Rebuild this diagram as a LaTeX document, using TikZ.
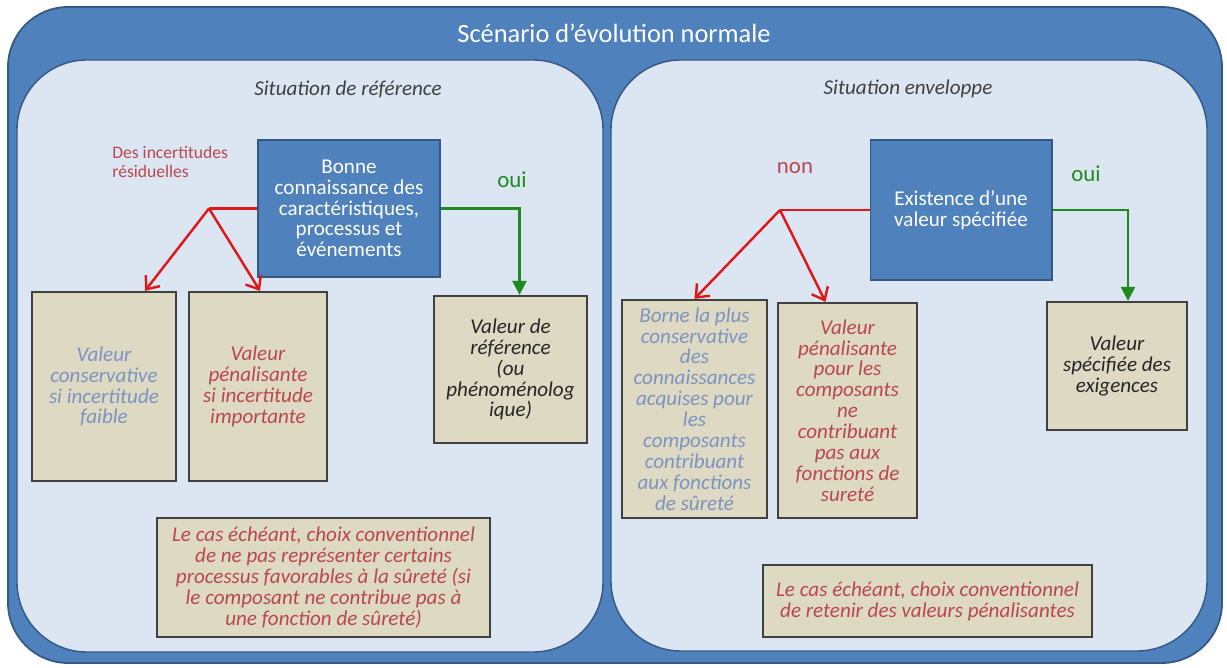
\documentclass[tikz,border=0pt]{standalone}
\usepackage{fontspec}
\setmainfont{Carlito}
\usepackage{xcolor}
\usetikzlibrary{positioning, arrows.meta, calc}

\definecolor{ciel}{RGB}{79,129,189}
\definecolor{cielfonce}{RGB}{52,88,132}
\definecolor{pale}{RGB}{220,230,242}
\definecolor{sable}{RGB}{221,217,195}
\definecolor{rouille}{RGB}{185,72,78}
\definecolor{ardoise}{RGB}{125,148,192}
\definecolor{rougevif}{RGB}{222,24,24}
\definecolor{vert}{RGB}{28,138,28}

\tikzset{
  cadre/.style={fill=pale, draw=cielfonce, line width=0.8pt, rounded corners=1.4cm},
  titre/.style={text=white, font=\fontsize{15}{17}\selectfont},
  soustitre/.style={text=black!75, font=\fontsize{12}{14}\selectfont\itshape},
  bleubox/.style={fill=ciel, draw=cielfonce, line width=0.6pt, text=white, align=center,
    inner sep=2pt, font=\fontsize{12}{11.8}\selectfont},
  sablebox/.style={fill=sable, draw=black!75, line width=1.3pt, align=center,
    inner sep=2pt, font=\fontsize{12}{11.9}\selectfont\itshape},
  note/.style={align=left, inner sep=0pt, font=\fontsize{10}{11}\selectfont},
  reponse/.style={inner sep=0pt, font=\fontsize{13}{15}\selectfont},
  trait rouge/.style={draw=rougevif, line width=1.4pt},
  fleche rouge/.style={trait rouge, -{Straight Barb[length=2.2mm, width=3.6mm]}},
  fleche verte/.style={draw=vert, line width=1.4pt, -{Triangle[length=2.8mm, width=2.8mm]}}
}

\begin{document}
\begin{tikzpicture}[x=0.02cm, y=-0.02cm]
  % Fix the page to the size of the figure
  \useasboundingbox (0,0) rectangle (1227,668);

  % Draw outer blue frame and its title
  \draw[fill=ciel, draw=cielfonce, line width=1pt, rounded corners=1.2cm] (8,7) rectangle (1222,663);
  \node[titre] (scenario) at (614,33) {Scénario d’évolution normale};

  % Draw the two light panels
  \draw[cadre] (17,60) rectangle (603,652);
  \draw[cadre] (611,60) rectangle (1207,651);
  \node[soustitre] (sitref) at (348,89) {Situation de référence};
  \node[soustitre] (sitenv) at (908,89) {Situation enveloppe};

  % Left panel: question box and the three values
  \node[bleubox, minimum width=3.64cm, minimum height=2.74cm] (connaissance) at (349,208.5)
    {Bonne\\connaissance des\\caractéristiques,\\processus et\\événements};
  \node[sablebox, text=ardoise, minimum width=2.88cm, minimum height=3.78cm] (conservative) at (104,386.5)
    {Valeur\\conservative\\si incertitude\\faible};
  \node[sablebox, text=rouille, minimum width=2.76cm, minimum height=3.78cm] (penalisante) at (258,386.5)
    {Valeur\\pénalisante\\si incertitude\\importante};
  \node[sablebox, text=black!85, minimum width=3.06cm, minimum height=2.94cm] (reference) at (510.5,369.5)
    {Valeur de\\référence\\(ou\\phénoménolog\\ique)};
  \node[sablebox, text=rouille, minimum width=6.66cm, minimum height=2.38cm] (choixref) at (323.5,577.5)
    {Le cas échéant, choix conventionnel\\de ne pas représenter certains\\processus favorables à la sûreté (si\\le composant ne contribue pas à\\une fonction de sûreté)};

  % Left panel: labels of the branches
  \node[note, text=rouille, anchor=west] (incertitudes) at (112,162) {Des incertitudes\\résiduelles};
  \node[reponse, text=vert] (ouiref) at (512,180) {oui};

  % Left panel: arrows
  \coordinate (brancheref) at (209,208.5);
  \draw[trait rouge] (connaissance.west) -- (brancheref);
  \draw[fleche rouge] (brancheref) -- ($(conservative.north)+(41,0)$);
  \draw[fleche rouge] (brancheref) -- ($(penalisante.north)+(2,0)$);
  \draw[fleche verte] (connaissance.east) -| ($(reference.north)+(9,0)$);

  % Right panel: question box and the three values
  \node[bleubox, minimum width=3.64cm, minimum height=2.8cm] (existence) at (961,210)
    {Existence d’une\\valeur spécifiée};
  \node[sablebox, text=ardoise, minimum width=2.9cm, minimum height=4.36cm] (borne) at (694.5,409)
    {Borne la plus\\conservative\\des\\connaissances\\acquises pour\\les\\composants\\contribuant\\aux fonctions\\de sûreté};
  \node[sablebox, text=rouille, minimum width=2.78cm, minimum height=4.3cm] (penalenv) at (847.5,410.5)
    {Valeur\\pénalisante\\pour les\\composants\\ne\\contribuant\\pas aux\\fonctions de\\sureté};
  \node[sablebox, text=black!85, minimum width=2.8cm, minimum height=2.56cm] (specifiee) at (1117,366)
    {Valeur\\spécifiée des\\exigences};
  \node[sablebox, text=rouille, minimum width=6.58cm, minimum height=1.44cm] (choixenv) at (927.5,601)
    {Le cas échéant, choix conventionnel\\de retenir des valeurs pénalisantes};

  % Right panel: labels of the branches
  \node[reponse, text=rouille] (non) at (795,168) {non};
  \node[reponse, text=vert] (ouienv) at (1086,174) {oui};

  % Right panel: arrows
  \coordinate (brancheenv) at (780,210);
  \draw[trait rouge] (existence.west) -- (brancheenv);
  \draw[fleche rouge] (brancheenv) -- (borne.north);
  \draw[fleche rouge] (brancheenv) -- ($(penalenv.north)+(-22,0)$);
  \draw[fleche verte] (existence.east) -| ($(specifiee.north)+(11,0)$);
\end{tikzpicture}
\end{document}
